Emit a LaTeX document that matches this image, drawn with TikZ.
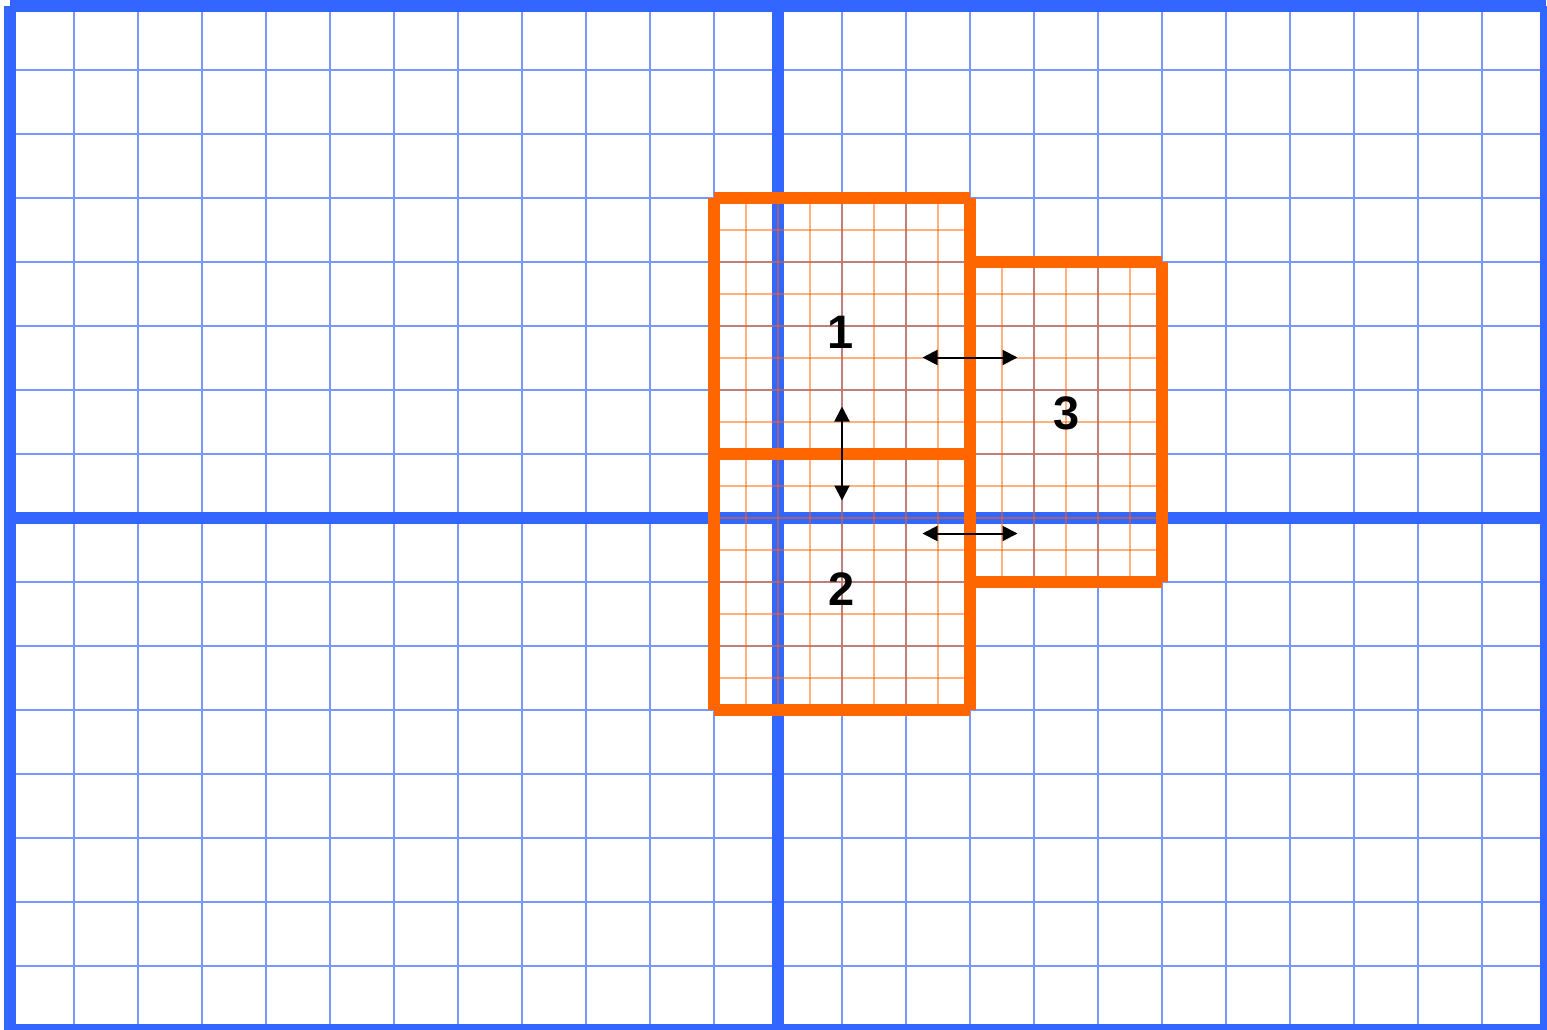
\documentclass[tikz,border=0pt]{standalone}
\usepackage{fontspec}
\setmainfont{Liberation Sans}
\usetikzlibrary{arrows.meta}
\definecolor{gridblue}{HTML}{7799FF}
\definecolor{mainblue}{HTML}{3366FF}
\definecolor{boxorange}{HTML}{FF6600}
\begin{document}
\begin{tikzpicture}[x=1pt,y=-1pt,
  thingrid/.style={draw=gridblue,line width=1.6pt},
  thickblue/.style={draw=mainblue,line width=12.5pt,line cap=butt},
  finegrid/.style={draw=boxorange,draw opacity=0.5,line width=1.6pt},
  boxedge/.style={draw=boxorange,line width=12.5pt,line cap=butt},
  dblarrow/.style={draw=black,line width=2pt,{Triangle[length=15pt,width=15pt]}-{Triangle[length=15pt,width=15pt]}},
  numlabel/.style={inner sep=0pt,font=\bfseries\fontsize{47}{47}\selectfont}]
\useasboundingbox (0,0) rectangle (1547,1030);
\clip (0,0) rectangle (1547,1030);
\fill[white] (0,0) rectangle (1547,1030);
% thin blue grid
\foreach \x in {74,138,...,1482} {\draw[thingrid] (\x,6) -- (\x,1030);}
\foreach \y in {70,134,...,966} {\draw[thingrid] (10,\y) -- (1546,\y);}
% thick blue lines
\draw[thickblue] (778,6) -- (778,1030);
\draw[thickblue] (10,518) -- (1546,518);
\draw[thickblue] (10,6) -- (1546,6);
\draw[thickblue] (10,6) -- (10,1030);
\draw[thickblue] (1546,6) -- (1546,1030);
\draw[thickblue] (10,1030) -- (1546,1030);
% fine orange grid, box 1
\foreach \x in {746,778,...,938} {\draw[finegrid] (\x,198) -- (\x,454);}
\foreach \y in {230,262,...,422} {\draw[finegrid] (714,\y) -- (970,\y);}
% box 2
\foreach \x in {746,778,...,938} {\draw[finegrid] (\x,454) -- (\x,710);}
\foreach \y in {486,518,...,678} {\draw[finegrid] (714,\y) -- (970,\y);}
% box 3
\foreach \x in {1002,1034,...,1130} {\draw[finegrid] (\x,262) -- (\x,582);}
\foreach \y in {294,326,...,550} {\draw[finegrid] (970,\y) -- (1162,\y);}
% box edges
\draw[boxedge] (714,198) -- (970,198);
\draw[boxedge] (714,198) -- (714,454);
\draw[boxedge] (970,198) -- (970,454);
\draw[boxedge] (714,454) -- (970,454);
\draw[boxedge] (714,454) -- (714,710);
\draw[boxedge] (970,454) -- (970,710);
\draw[boxedge] (714,710) -- (970,710);
\draw[boxedge] (970,262) -- (1162,262);
\draw[boxedge] (1162,262) -- (1162,582);
\draw[boxedge] (970,582) -- (1162,582);
\draw[boxedge] (970,262) -- (970,582);
% arrows
\coordinate (a1t) at (842,406.5);
\coordinate (a1b) at (842,500.5);
\coordinate (a2l) at (922.5,357.5);
\coordinate (a2r) at (1017.5,357.5);
\coordinate (a3l) at (922.5,533.5);
\coordinate (a3r) at (1017.5,533.5);
\draw[dblarrow] (a1t) -- (a1b);
\draw[dblarrow] (a2l) -- (a2r);
\draw[dblarrow] (a3l) -- (a3r);
% labels
\node[numlabel] (l1) at (841,332) {1};
\node[numlabel] (l2) at (842,589) {2};
\node[numlabel] (l3) at (1066.5,413) {3};
\end{tikzpicture}
\end{document}
